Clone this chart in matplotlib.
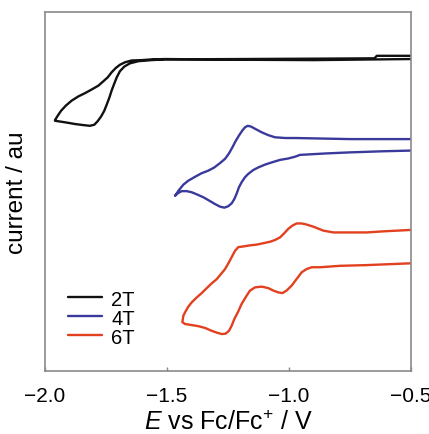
import matplotlib
matplotlib.use("Agg")
import matplotlib.pyplot as plt

plt.rcParams['font.family'] = ['Liberation Sans', 'DejaVu Sans']
plt.rcParams['mathtext.fontset'] = 'custom'
plt.rcParams['mathtext.rm'] = 'Liberation Sans'
plt.rcParams['mathtext.it'] = 'Liberation Sans:italic'

# ─── cyclic voltammograms: E in V vs Fc/Fc+, current in au (traces offset vertically)
E_2T = [-0.50, -0.64, -0.65, -0.90, -1.20, -1.508, -1.563, -1.617, -1.652, -1.675,
        -1.693, -1.706, -1.717, -1.727, -1.736, -1.746, -1.757, -1.770, -1.784,
        -1.798, -1.816, -1.843, -1.877, -1.911, -1.939, -1.959,
        -1.959, -1.948, -1.934, -1.915, -1.891, -1.863, -1.836, -1.809, -1.781,
        -1.761, -1.743, -1.727, -1.710, -1.693, -1.672, -1.645, -1.604, -1.563,
        -1.508, -1.20, -0.90, -0.50]
I_2T = [87.8, 87.8, 87.1, 87.0, 86.9, 86.8, 86.6, 86.3, 85.7, 84.8,
        83.5, 81.8, 79.9, 78.1, 76.2, 74.4, 72.5, 70.9, 69.6,
        68.6, 68.3, 68.5, 68.8, 69.2, 69.5, 69.7,
        69.9, 71.1, 72.5, 73.9, 75.3, 76.5, 77.4, 78.4, 79.5,
        80.7, 81.8, 83.2, 84.4, 85.3, 86.0, 86.5, 86.6, 86.8,
        86.9, 86.7, 86.6, 86.9]

E_4T = [-0.50, -0.75, -0.975, -1.016, -1.057, -1.085, -1.112, -1.137, -1.156, -1.169,
        -1.180, -1.191, -1.205, -1.219, -1.232, -1.246, -1.262, -1.283, -1.306,
        -1.331, -1.358, -1.385, -1.413, -1.433, -1.451, -1.467,
        -1.456, -1.440, -1.419, -1.399, -1.374, -1.351, -1.328, -1.303, -1.283,
        -1.265, -1.249, -1.235, -1.224, -1.214, -1.205, -1.194, -1.180, -1.167,
        -1.146, -1.126, -1.098, -1.071, -1.037, -1.003, -0.975, -0.955, -0.85,
        -0.75, -0.62, -0.50]
I_4T = [64.6, 64.6, 64.9, 64.9, 65.1, 65.7, 66.5, 67.4, 68.1, 68.3,
        67.9, 67.0, 65.6, 64.0, 62.3, 60.6, 59.1, 57.9, 56.7,
        55.8, 55.1, 54.1, 53.0, 51.9, 50.4, 48.8,
        49.5, 50.1, 50.1, 49.8, 49.1, 48.4, 47.5, 46.5, 45.8,
        45.5, 45.9, 46.7, 47.9, 49.5, 51.2, 52.6, 54.0, 54.9,
        56.0, 56.7, 57.5, 58.1, 58.8, 59.2, 59.7, 60.2, 60.6,
        60.9, 61.2, 61.4]

E_6T = [-0.50, -0.614, -0.682, -0.750, -0.818, -0.859, -0.900, -0.928, -0.948, -0.969,
        -0.986, -1.003, -1.019, -1.037, -1.057, -1.078, -1.105, -1.133, -1.160,
        -1.187, -1.208, -1.221, -1.232, -1.246, -1.262, -1.279, -1.296, -1.317,
        -1.337, -1.358, -1.378, -1.399, -1.413, -1.424, -1.433, -1.437,
        -1.426, -1.399, -1.372, -1.344, -1.317, -1.296, -1.276, -1.260, -1.246,
        -1.235, -1.224, -1.210, -1.194, -1.178, -1.160, -1.139, -1.112, -1.085,
        -1.064, -1.044, -1.027, -1.010, -0.989, -0.969, -0.948, -0.928, -0.907,
        -0.873, -0.791, -0.682, -0.50]
I_6T = [39.3, 38.9, 38.6, 38.6, 38.6, 39.1, 40.2, 40.8, 41.1, 41.1,
        40.5, 39.6, 38.4, 37.2, 36.5, 36.0, 35.6, 35.2, 35.0,
        34.7, 34.5, 33.5, 32.1, 30.3, 28.4, 27.0, 25.6, 24.4,
        23.1, 21.7, 20.5, 19.1, 17.9, 16.6, 15.4, 13.6,
        13.1, 12.8, 12.5, 12.0, 11.2, 10.7, 10.3, 10.4, 11.2,
        12.6, 14.5, 16.3, 18.7, 20.5, 22.4, 23.3, 23.5, 23.1,
        22.4, 21.9, 21.7, 22.4, 23.8, 25.6, 27.5, 28.4, 28.9,
        28.9, 29.3, 29.5, 30.0]

labels = ["2T", "4T", "6T"]
colors = ["#111111", "#3a3a9c", "#e2401f"]
x_ticks = [-2.0, -1.5, -1.0, -0.5]

fig = plt.figure(figsize=(4.29, 4.35), dpi=100)
ax = fig.add_axes([0.1049, 0.1448, 0.8531, 0.8253])

for E, I, lab, c in zip([E_2T, E_4T, E_6T], [I_2T, I_4T, I_6T], labels, colors):
    ax.plot(E, I, color=c, lw=1.7, label=lab,
            solid_joinstyle="round", solid_capstyle="round")

ax.set_xlim(-2.0, -0.5)
ax.set_ylim(0, 100)
ax.set_xticks(x_ticks)
ax.set_yticks([])
ax.tick_params(axis="x", direction="in", length=3, width=1, color="#888888",
               labelsize=15, pad=11)
for sp in ax.spines.values():
    sp.set_color("#8a8a8a")
    sp.set_linewidth(1.2)

ax.set_xlabel(r"$E$ vs Fc/Fc$^{+}$ / V", fontsize=18, labelpad=3)
ax.set_ylabel("current / au", fontsize=17.5, labelpad=12)

ax.legend(loc="upper left", bbox_to_anchor=(0.035, 0.255), frameon=False,
          fontsize=14.5, handlelength=1.7, handletextpad=0.45,
          labelspacing=0.0, borderpad=0)

fig.savefig("out.png", dpi=100)
